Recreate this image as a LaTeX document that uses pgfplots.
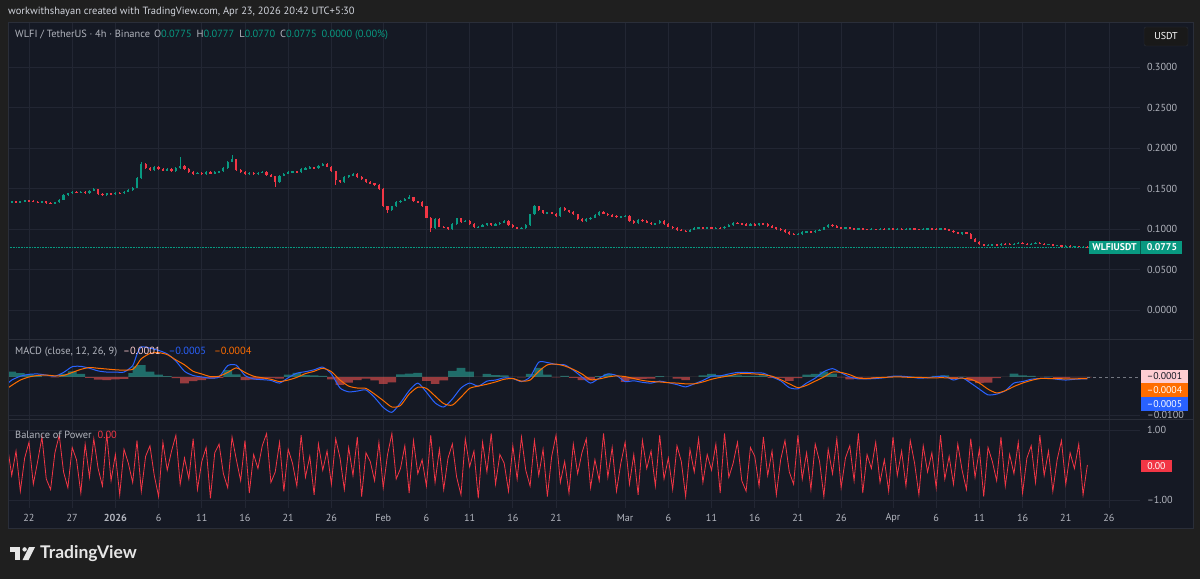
\documentclass[border=0pt]{standalone}
\usepackage{fontspec}
\setmainfont{PT Sans}
\newfontfamily\logofont{Lato}
\usepackage{pgfplots}
\pgfplotsset{compat=1.18}
\usepackage{pgfplotstable}
\definecolor{outerbg}{HTML}{1F1F1F}
\definecolor{panelbg}{HTML}{151924}
\definecolor{gridc}{HTML}{222633}
\definecolor{sepc}{HTML}{2A2E39}
\definecolor{labc}{HTML}{B2B5BE}
\definecolor{hdrc}{HTML}{D1D4DC}
\definecolor{upc}{HTML}{089981}
\definecolor{dnc}{HTML}{F23645}
\definecolor{macdc}{HTML}{2962FF}
\definecolor{sigc}{HTML}{FF6D00}
\definecolor{hpos}{HTML}{26A69A}
\definecolor{hneg}{HTML}{EF5350}
\definecolor{pinkc}{HTML}{FFCDD2}
\definecolor{bopc}{HTML}{F23645}
\definecolor{logoc}{HTML}{E6E6E6}

% up candles: d o h l c
\pgfplotstableread[row sep=\\]{
d o h l c\\
-2.5 .1320 .1345 .1312 .1335\\ -2.0 .1335 .1350 .1328 .1342\\ -1.0 .1330 .1348 .1322 .1340\\ -0.5 .1340 .1360 .1332 .1352\\
1.5 .1330 .1350 .1322 .1342\\ 3.0 .1312 .1338 .1305 .1330\\ 3.5 .1330 .1370 .1322 .1362\\ 4.0 .1362 .1428 .1355 .1420\\
4.5 .1420 .1450 .1412 .1440\\ 5.0 .1440 .1470 .1432 .1462\\ 6.0 .1448 .1468 .1440 .1460\\ 7.0 .1445 .1480 .1438 .1472\\
7.5 .1472 .1505 .1465 .1490\\ 9.0 .1420 .1448 .1412 .1440\\ 10.0 .1428 .1458 .1420 .1450\\ 11.0 .1440 .1470 .1432 .1462\\
11.5 .1462 .1488 .1455 .1480\\ 12.0 .1480 .1520 .1472 .1510\\ 12.5 .1510 .1640 .1500 .1630\\ 13.0 .1630 .1830 .1620 .1800\\
14.5 .1730 .1772 .1722 .1762\\ 16.0 .1722 .1755 .1715 .1745\\ 17.0 .1712 .1762 .1705 .1752\\ 17.5 .1752 .1890 .1745 .1780\\
19.5 .1682 .1705 .1675 .1695\\ 20.5 .1680 .1712 .1672 .1702\\ 21.5 .1690 .1715 .1682 .1705\\ 22.0 .1705 .1722 .1698 .1712\\
22.5 .1712 .1760 .1705 .1750\\ 23.0 .1750 .1840 .1742 .1830\\ 23.5 .1830 .1910 .1822 .1860\\ 25.5 .1680 .1702 .1672 .1692\\
26.5 .1680 .1705 .1672 .1695\\ 27.0 .1695 .1712 .1688 .1702\\ 29.0 .1580 .1670 .1572 .1660\\ 29.5 .1660 .1692 .1652 .1682\\
30.0 .1682 .1710 .1675 .1700\\ 30.5 .1700 .1722 .1692 .1712\\ 31.5 .1698 .1750 .1690 .1740\\ 32.0 .1740 .1762 .1732 .1752\\
32.5 .1752 .1772 .1745 .1762\\ 33.5 .1748 .1790 .1740 .1780\\ 34.0 .1780 .1815 .1772 .1800\\ 36.5 .1580 .1650 .1572 .1640\\
37.0 .1640 .1672 .1632 .1662\\ 37.5 .1662 .1690 .1655 .1680\\ 42.0 .1230 .1290 .1222 .1280\\ 42.5 .1280 .1340 .1272 .1330\\
43.0 .1330 .1360 .1322 .1350\\ 43.5 .1350 .1382 .1342 .1372\\ 44.0 .1372 .1420 .1365 .1392\\ 47.0 .1010 .1130 .1000 .1120\\
49.0 .1000 .1070 .0992 .1060\\ 49.5 .1060 .1140 .1052 .1130\\ 50.5 .1090 .1110 .1082 .1100\\ 52.0 .1020 .1040 .1012 .1030\\
52.5 .1030 .1060 .1022 .1050\\ 53.0 .1050 .1080 .1042 .1070\\ 54.0 .1050 .1070 .1042 .1060\\ 54.5 .1060 .1090 .1052 .1080\\
55.0 .1080 .1110 .1072 .1100\\ 57.0 .1010 .1020 .1002 .1012\\ 57.5 .1012 .1060 .1005 .1050\\ 58.0 .1050 .1190 .1042 .1180\\
58.5 .1180 .1300 .1172 .1280\\ 60.0 .1200 .1215 .1192 .1205\\ 61.5 .1160 .1275 .1152 .1260\\ 64.5 .1100 .1130 .1092 .1120\\
65.0 .1120 .1150 .1112 .1140\\ 65.5 .1140 .1180 .1132 .1170\\ 66.0 .1170 .1220 .1162 .1210\\ 68.5 .1150 .1165 .1142 .1155\\
69.0 .1155 .1170 .1148 .1160\\ 70.5 .1070 .1120 .1062 .1110\\ 72.5 .1060 .1080 .1052 .1070\\ 73.0 .1070 .1110 .1062 .1100\\
76.5 .0970 .1000 .0962 .0990\\ 77.0 .0990 .1020 .0982 .1010\\ 77.5 .1010 .1030 .1002 .1020\\ 78.5 .1010 .1030 .1002 .1020\\
79.5 .1008 .1020 .1000 .1012\\ 80.5 .1010 .1040 .1002 .1030\\ 81.0 .1030 .1060 .1022 .1050\\ 81.5 .1050 .1090 .1042 .1080\\
83.5 .1050 .1070 .1042 .1060\\ 84.5 .1050 .1080 .1042 .1070\\ 89.0 .0930 .0950 .0922 .0940\\ 89.5 .0940 .0970 .0932 .0960\\
90.0 .0960 .0980 .0952 .0970\\ 91.0 .0960 .0990 .0952 .0980\\ 91.5 .0980 .1000 .0972 .0990\\ 92.0 .0990 .1030 .0982 .1020\\
92.5 .1020 .1060 .1012 .1050\\ 94.5 .1010 .1028 .1004 .1020\\ 96.0 .1000 .1018 .0994 .1010\\ 97.5 .0990 .1008 .0984 .1000\\
98.5 .0990 .1010 .0984 .1002\\ 99.5 .0998 .1018 .0992 .1010\\ 100.5 .1000 .1012 .0994 .1004\\ 101.5 .0992 .1008 .0986 .1000\\
102.0 .1000 .1018 .0994 .1010\\ 103.5 .0990 .1008 .0984 .1000\\ 104.0 .1000 .1018 .0994 .1010\\ 105.5 .0998 .1018 .0992 .1010\\
108.0 .0940 .0968 .0932 .0960\\ 111.0 .0800 .0810 .0794 .0802\\ 111.5 .0802 .0818 .0796 .0810\\ 112.5 .0800 .0828 .0794 .0820\\
114.0 .0810 .0828 .0804 .0820\\ 114.5 .0820 .0838 .0814 .0830\\ 116.0 .0810 .0828 .0804 .0820\\ 116.5 .0820 .0838 .0814 .0830\\
118.0 .0810 .0818 .0804 .0812\\ 119.0 .0800 .0808 .0794 .0802\\ 120.0 .0790 .0798 .0784 .0792\\ 121.0 .0780 .0796 .0774 .0790\\
122.0 .0780 .0788 .0774 .0782\\
}\upT

% down candles: d o h l c
\pgfplotstableread[row sep=\\]{
d o h l c\\
-1.5 .1342 .1350 .1322 .1330\\ 0.0 .1352 .1360 .1338 .1345\\ 0.5 .1345 .1352 .1330 .1338\\ 1.0 .1338 .1345 .1322 .1330\\
2.0 .1342 .1350 .1314 .1322\\ 2.5 .1322 .1330 .1304 .1312\\ 5.5 .1462 .1470 .1440 .1448\\ 6.5 .1460 .1468 .1438 .1445\\
8.0 .1490 .1498 .1425 .1432\\ 8.5 .1432 .1440 .1412 .1420\\ 9.5 .1440 .1448 .1420 .1428\\ 10.5 .1450 .1458 .1432 .1440\\
13.5 .1800 .1810 .1740 .1750\\ 14.0 .1750 .1760 .1720 .1730\\ 15.0 .1762 .1772 .1730 .1740\\ 15.5 .1740 .1750 .1712 .1722\\
16.5 .1745 .1755 .1702 .1712\\ 18.0 .1780 .1790 .1732 .1742\\ 18.5 .1742 .1750 .1690 .1700\\ 19.0 .1700 .1710 .1672 .1682\\
20.0 .1695 .1705 .1670 .1680\\ 21.0 .1702 .1710 .1680 .1690\\ 24.0 .1860 .1870 .1720 .1730\\ 24.5 .1730 .1740 .1690 .1700\\
25.0 .1700 .1710 .1670 .1680\\ 26.0 .1692 .1700 .1670 .1680\\ 27.5 .1702 .1710 .1660 .1670\\ 28.0 .1670 .1680 .1640 .1650\\
28.5 .1650 .1660 .1520 .1580\\ 31.0 .1712 .1720 .1690 .1698\\ 33.0 .1762 .1770 .1740 .1748\\ 34.5 .1800 .1810 .1760 .1770\\
35.0 .1770 .1780 .1700 .1710\\ 35.5 .1710 .1720 .1545 .1600\\ 36.0 .1600 .1610 .1570 .1580\\ 38.0 .1680 .1690 .1632 .1642\\
38.5 .1642 .1650 .1602 .1612\\ 39.0 .1612 .1620 .1570 .1580\\ 39.5 .1580 .1590 .1552 .1562\\ 40.0 .1562 .1570 .1530 .1540\\
40.5 .1540 .1550 .1480 .1490\\ 41.0 .1490 .1500 .1270 .1280\\ 41.5 .1280 .1290 .1200 .1230\\ 44.5 .1392 .1400 .1330 .1340\\
45.0 .1340 .1350 .1320 .1330\\ 45.5 .1330 .1340 .1270 .1280\\ 46.0 .1280 .1290 .1130 .1140\\ 46.5 .1140 .1150 .0960 .1010\\
47.5 .1120 .1130 .1020 .1030\\ 48.0 .1030 .1040 .1010 .1020\\ 48.5 .1020 .1030 .0990 .1000\\ 50.0 .1130 .1140 .1080 .1090\\
51.0 .1100 .1110 .1050 .1060\\ 51.5 .1060 .1070 .1010 .1020\\ 53.5 .1070 .1080 .1040 .1050\\ 55.5 .1100 .1110 .1040 .1050\\
56.0 .1050 .1060 .1010 .1020\\ 56.5 .1020 .1030 .1000 .1010\\ 59.0 .1280 .1290 .1220 .1230\\ 59.5 .1230 .1240 .1190 .1200\\
60.5 .1205 .1215 .1180 .1190\\ 61.0 .1190 .1200 .1150 .1160\\ 62.0 .1260 .1270 .1220 .1230\\ 62.5 .1230 .1240 .1200 .1210\\
63.0 .1210 .1220 .1170 .1180\\ 63.5 .1180 .1190 .1110 .1120\\ 64.0 .1120 .1130 .1090 .1100\\ 66.5 .1210 .1220 .1180 .1190\\
67.0 .1190 .1200 .1160 .1170\\ 67.5 .1170 .1180 .1150 .1160\\ 68.0 .1160 .1170 .1140 .1150\\ 69.5 .1160 .1170 .1090 .1100\\
70.0 .1100 .1110 .1060 .1070\\ 71.0 .1110 .1120 .1090 .1100\\ 71.5 .1100 .1110 .1070 .1080\\ 72.0 .1080 .1090 .1050 .1060\\
73.5 .1100 .1110 .1050 .1060\\ 74.0 .1060 .1070 .1020 .1030\\ 74.5 .1030 .1040 .1000 .1010\\ 75.0 .1010 .1020 .0980 .0990\\
75.5 .0990 .1000 .0970 .0980\\ 76.0 .0980 .0990 .0960 .0970\\ 78.0 .1020 .1030 .1000 .1010\\ 79.0 .1020 .1030 .1000 .1008\\
80.0 .1012 .1020 .1002 .1010\\ 82.0 .1080 .1090 .1060 .1070\\ 82.5 .1070 .1080 .1050 .1060\\ 83.0 .1060 .1070 .1040 .1050\\
84.0 .1060 .1070 .1040 .1050\\ 85.0 .1070 .1080 .1050 .1060\\ 85.5 .1060 .1070 .1030 .1040\\ 86.0 .1040 .1050 .1010 .1020\\
86.5 .1020 .1030 .0990 .1000\\ 87.0 .1000 .1010 .0980 .0990\\ 87.5 .0990 .1000 .0950 .0960\\ 88.0 .0960 .0970 .0930 .0940\\
88.5 .0940 .0950 .0920 .0930\\ 90.5 .0970 .0980 .0950 .0960\\ 93.0 .1050 .1060 .1030 .1040\\ 93.5 .1040 .1050 .1010 .1020\\
94.0 .1020 .1030 .1000 .1010\\ 95.0 .1020 .1026 .1004 .1010\\ 95.5 .1010 .1016 .0994 .1000\\ 96.5 .1010 .1016 .0994 .1000\\
97.0 .1000 .1006 .0984 .0990\\ 98.0 .1000 .1006 .0984 .0990\\ 99.0 .1002 .1008 .0992 .0998\\ 100.0 .1010 .1016 .0994 .1000\\
101.0 .1004 .1010 .0986 .0992\\ 102.5 .1010 .1016 .0994 .1000\\ 103.0 .1000 .1006 .0984 .0990\\ 104.5 .1010 .1016 .0996 .1002\\
105.0 .1002 .1008 .0992 .0998\\ 106.0 .1010 .1016 .0994 .1000\\ 106.5 .1000 .1006 .0974 .0980\\ 107.0 .0980 .0986 .0954 .0960\\
107.5 .0960 .0966 .0934 .0940\\ 108.5 .0960 .0966 .0934 .0940\\ 109.0 .0940 .0946 .0874 .0880\\ 109.5 .0880 .0886 .0834 .0840\\
110.0 .0840 .0846 .0804 .0810\\ 110.5 .0810 .0816 .0794 .0800\\ 112.0 .0810 .0816 .0794 .0800\\ 113.0 .0820 .0826 .0812 .0818\\
113.5 .0818 .0824 .0804 .0810\\ 115.0 .0830 .0836 .0814 .0820\\ 115.5 .0820 .0826 .0804 .0810\\ 117.0 .0830 .0836 .0814 .0820\\
117.5 .0820 .0826 .0804 .0810\\ 118.5 .0812 .0818 .0794 .0800\\ 119.5 .0802 .0808 .0784 .0790\\ 120.5 .0792 .0798 .0774 .0780\\
121.5 .0790 .0796 .0774 .0780\\ 122.5 .0782 .0788 .0770 .0775\\
}\dnT

% MACD line (m) and signal (s)
\pgfplotstableread[row sep=\\]{
d m s\\
-2.5 -0.0018 -0.0030\\ -2 -0.0008 -0.0022\\ -1 0.0002 -0.0008\\ 0 0.0007 0.0000\\ 1 0.0008 0.0004\\ 2 0.0005 0.0005\\
3 0.0002 0.0003\\ 4 0.0012 0.0004\\ 5 0.0027 0.0012\\ 6 0.0028 0.0020\\ 7 0.0023 0.0025\\ 8 0.0016 0.0023\\
9 0.0013 0.0021\\ 10 0.0013 0.0019\\ 11 0.0013 0.0018\\ 12 0.0030 0.0020\\ 12.5 0.0060 0.0032\\ 13 0.0079 0.0048\\
14 0.0076 0.0062\\ 15 0.0070 0.0064\\ 16 0.0061 0.0059\\ 17 0.0042 0.0045\\ 18 0.0015 0.0032\\ 19 0.0004 0.0015\\
20 0.0000 0.0008\\ 21 -0.0003 0.0001\\ 22 0.0000 0.0002\\ 23 0.0030 0.0012\\ 24 0.0031 0.0024\\ 25 0.0004 0.0012\\
26 -0.0005 0.0002\\ 27 -0.0007 -0.0002\\ 28 -0.0009 -0.0006\\ 29 -0.0016 -0.0012\\ 30 -0.0002 -0.0008\\ 31 0.0010 -0.0001\\
32 0.0014 0.0009\\ 33 0.0019 0.0015\\ 34 0.0026 0.0023\\ 35 0.0008 0.0014\\ 36 -0.0029 -0.0008\\ 37 -0.0039 -0.0024\\
38 -0.0037 -0.0029\\ 39 -0.0034 -0.0030\\ 40 -0.0054 -0.0045\\ 41 -0.0080 -0.0062\\ 42 -0.0093 -0.0079\\ 43 -0.0068 -0.0075\\
44 -0.0036 -0.0045\\ 45 -0.0016 -0.0027\\ 46 -0.0040 -0.0030\\ 47 -0.0068 -0.0050\\ 48 -0.0079 -0.0070\\ 49 -0.0058 -0.0074\\
50 -0.0029 -0.0053\\ 51 -0.0016 -0.0030\\ 52 -0.0024 -0.0024\\ 53 -0.0011 -0.0019\\ 54 -0.0008 -0.0013\\ 55 -0.0002 -0.0006\\
56 -0.0004 -0.0004\\ 57 -0.0012 -0.0011\\ 58 0.0000 -0.0008\\ 59 0.0039 0.0015\\ 60 0.0038 0.0032\\ 61 0.0033 0.0034\\
62 0.0032 0.0029\\ 63 0.0018 0.0020\\ 64 0.0000 0.0008\\ 65 -0.0016 -0.0007\\ 66 -0.0003 -0.0005\\ 67 0.0008 0.0000\\
68 0.0004 0.0003\\ 69 -0.0012 0.0001\\ 70 -0.0010 -0.0004\\ 71 -0.0014 -0.0009\\ 72 -0.0016 -0.0012\\ 73 -0.0011 -0.0013\\
74 -0.0015 -0.0015\\ 75 -0.0020 -0.0016\\ 76 -0.0026 -0.0018\\ 77 -0.0018 -0.0018\\ 78 -0.0009 -0.0013\\ 79 0.0002 -0.0006\\
80 0.0003 -0.0001\\ 81 0.0008 0.0003\\ 82 0.0012 0.0008\\ 83 0.0012 0.0009\\ 84 0.0011 0.0008\\ 85 0.0010 0.0006\\
86 0.0000 0.0002\\ 87 -0.0010 -0.0007\\ 88 -0.0028 -0.0018\\ 89 -0.0031 -0.0028\\ 90 -0.0016 -0.0022\\ 91 -0.0003 -0.0011\\
92 0.0014 0.0000\\ 93 0.0022 0.0013\\ 94 0.0011 0.0012\\ 95 0.0000 0.0006\\ 96 -0.0005 -0.0003\\ 97 -0.0005 -0.0004\\
98 -0.0004 -0.0002\\ 99 -0.0002 -0.0001\\ 100 0.0002 0.0000\\ 101 0.0002 0.0000\\ 102 0.0000 -0.0001\\ 103 -0.0003 -0.0001\\
104 -0.0002 -0.0002\\ 105 0.0001 -0.0002\\ 106 0.0002 -0.0002\\ 107 -0.0008 -0.0003\\ 108 -0.0002 -0.0003\\ 109 -0.0016 -0.0006\\
110 -0.0032 -0.0016\\ 111 -0.0047 -0.0032\\ 112 -0.0045 -0.0042\\ 113 -0.0036 -0.0036\\ 114 -0.0016 -0.0025\\ 115 -0.0012 -0.0016\\
116 -0.0006 -0.0009\\ 117 -0.0004 -0.0004\\ 118 -0.0003 -0.0004\\ 119 -0.0006 -0.0004\\ 120 -0.0008 -0.0005\\ 121 -0.0006 -0.0005\\
122 -0.0005 -0.0004\\ 122.5 -0.0005 -0.0004\\
}\macdT

% Balance of Power, one value per 12h from day -2.5
\pgfplotstableread[row sep=\\]{
b\\
0.55\\ -0.30\\ 0.40\\ -0.75\\ 0.20\\ 0.65\\ -0.55\\ 0.10\\ 0.80\\ -0.40\\
-0.70\\ 0.35\\ 0.85\\ -0.20\\ -0.65\\ 0.50\\ 0.15\\ -0.80\\ 0.60\\ -0.35\\
0.75\\ -0.10\\ -0.60\\ 0.90\\ -0.45\\ 0.30\\ -0.85\\ 0.45\\ 0.05\\ -0.50\\
0.70\\ -0.75\\ 0.25\\ 0.55\\ -0.30\\ -0.90\\ 0.65\\ -0.15\\ 0.40\\ 0.85\\
-0.55\\ 0.20\\ -0.40\\ 0.75\\ -0.70\\ 0.10\\ 0.50\\ -0.95\\ 0.35\\ 0.60\\
-0.25\\ -0.65\\ 0.80\\ 0.15\\ -0.45\\ 0.70\\ -0.80\\ 0.30\\ -0.10\\ 0.55\\
0.90\\ -0.50\\ -0.20\\ 0.65\\ -0.75\\ 0.45\\ 0.05\\ -0.60\\ 0.85\\ -0.35\\
0.25\\ -0.85\\ 0.60\\ -0.15\\ 0.40\\ -0.55\\ 0.75\\ 0.20\\ -0.70\\ 0.50\\
-0.30\\ 0.80\\ -0.90\\ 0.35\\ 0.10\\ -0.45\\ 0.65\\ -0.65\\ 0.30\\ 0.90\\
-0.40\\ -0.10\\ 0.55\\ -0.80\\ 0.70\\ -0.25\\ 0.15\\ -0.60\\ 0.85\\ -0.50\\
0.45\\ -0.70\\ 0.20\\ 0.60\\ -0.35\\ -0.85\\ 0.75\\ -0.05\\ 0.40\\ -0.95\\
0.65\\ -0.20\\ 0.90\\ -0.55\\ 0.30\\ 0.05\\ -0.75\\ 0.55\\ -0.40\\ 0.80\\
-0.15\\ -0.60\\ 0.70\\ -0.30\\ 0.45\\ -0.90\\ 0.25\\ 0.85\\ -0.50\\ 0.10\\
-0.80\\ 0.60\\ -0.25\\ 0.35\\ 0.75\\ -0.65\\ 0.15\\ -0.45\\ 0.90\\ -0.35\\
0.50\\ -0.75\\ 0.05\\ 0.65\\ -0.55\\ 0.30\\ -0.85\\ 0.70\\ -0.10\\ 0.40\\
-0.60\\ 0.85\\ -0.40\\ 0.20\\ -0.70\\ 0.55\\ 0.10\\ -0.90\\ 0.45\\ -0.20\\
0.75\\ -0.50\\ 0.30\\ -0.15\\ 0.60\\ -0.80\\ 0.90\\ -0.35\\ 0.05\\ 0.65\\
-0.45\\ -0.75\\ 0.50\\ 0.25\\ -0.60\\ 0.80\\ -0.30\\ 0.40\\ -0.85\\ 0.15\\
0.70\\ -0.20\\ -0.55\\ 0.85\\ -0.40\\ 0.35\\ -0.70\\ 0.60\\ 0.10\\ -0.90\\
0.45\\ -0.25\\ 0.75\\ -0.65\\ 0.20\\ 0.55\\ -0.45\\ 0.90\\ -0.80\\ 0.30\\
-0.10\\ 0.65\\ -0.50\\ 0.15\\ -0.75\\ 0.80\\ -0.30\\ 0.40\\ -0.60\\ 0.70\\
0.05\\ -0.85\\ 0.55\\ -0.20\\ 0.35\\ -0.65\\ 0.85\\ -0.40\\ 0.25\\ -0.55\\
0.60\\ -0.15\\ -0.70\\ 0.75\\ -0.35\\ 0.45\\ -0.90\\ 0.50\\ 0.10\\ -0.45\\
0.80\\ -0.60\\ 0.30\\ -0.25\\ 0.65\\ -0.80\\ 0.20\\ 0.55\\ -0.50\\ 0.85\\
-0.30\\ 0.40\\ -0.75\\ 0.15\\ 0.70\\ -0.55\\ 0.35\\ -0.10\\ 0.60\\ -0.85\\
0.00\\
}\bopT

\pgfplotsset{
  tv/.style={
    scale only axis, width=1132pt,
    xmin=-2.43, xmax=128.59,
    axis line style={draw=none},
    major tick length=0pt, tick style={draw=none},
    scaled y ticks=false, scaled x ticks=false,
    xtick={0,5,10,15,20,25,30,35,41,46,51,56,61,69,74,79,84,89,94,100,105,110,115,120,125},
    xmajorgrids, ymajorgrids,
    major grid style={draw=gridc, line width=0.8pt},
    yticklabel pos=right,
    yticklabel style={anchor=west, inner sep=0pt, xshift=7pt, text=labc, font=\fontsize{10.2}{12}\selectfont},
    xticklabel style={anchor=center, inner sep=0pt, yshift=-10pt, text=labc, font=\fontsize{10.2}{12}\selectfont},
  },
  wick/.style={draw=none, mark=none, forget plot,
    error bars/.cd, y dir=both, y explicit, error mark=none,
    error bar style={draw=#1, line width=0.75pt}},
  body/.style={draw=none, mark=none, forget plot,
    error bars/.cd, y dir=both, y explicit, error mark=none,
    error bar style={draw=#1, line width=2.2pt}},
}

\begin{document}
\begin{tikzpicture}
\path[use as bounding box] (0pt,0pt) rectangle (1200pt,579pt);
\fill[outerbg] (0pt,0pt) rectangle (1200pt,579pt);
\fill[panelbg] (8pt,51pt) rectangle (1193pt,557pt);

% ---------------- price pane
\begin{axis}[tv, at={(8pt,239pt)}, anchor=south west, height=318pt,
  ymin=-0.03704, ymax=0.35556,
  ytick={0,0.05,0.1,0.15,0.2,0.25,0.3},
  yticklabels={0.0000,0.0500,0.1000,0.1500,0.2000,0.2500,0.3000},
  xticklabels={}]
\addplot[upc, densely dotted, line width=0.6pt, forget plot] coordinates {(-2.43,0.0775) (128.59,0.0775)};
\addplot[wick=upc] table[x=d, y expr={(\thisrow{h}+\thisrow{l})/2}, y error expr={(\thisrow{h}-\thisrow{l})/2}] {\upT};
\addplot[wick=dnc] table[x=d, y expr={(\thisrow{h}+\thisrow{l})/2}, y error expr={(\thisrow{h}-\thisrow{l})/2}] {\dnT};
\addplot[body=upc] table[x=d, y expr={(\thisrow{o}+\thisrow{c})/2}, y error expr={abs(\thisrow{c}-\thisrow{o})/2}] {\upT};
\addplot[body=dnc] table[x=d, y expr={(\thisrow{o}+\thisrow{c})/2}, y error expr={abs(\thisrow{c}-\thisrow{o})/2}] {\dnT};
\end{axis}

% ---------------- MACD pane
\begin{axis}[tv, at={(8pt,159pt)}, anchor=south west, height=80pt,
  ymin=-0.01132, ymax=0.00974,
  ytick={-0.01}, yticklabels={–0.0100},
  xticklabels={}]
\addplot[ybar, bar width=1, bar shift=0pt, draw=none, fill=hpos, fill opacity=0.6, forget plot]
  table[x=d, y expr={max(\thisrow{m}-\thisrow{s},0)}] {\macdT};
\addplot[ybar, bar width=1, bar shift=0pt, draw=none, fill=hneg, fill opacity=0.6, forget plot]
  table[x=d, y expr={min(\thisrow{m}-\thisrow{s},0)}] {\macdT};
\addplot[macdc, line width=1pt, smooth, tension=0.4] table[x=d, y=m] {\macdT};
\addplot[sigc, line width=1pt, smooth, tension=0.4] table[x=d, y=s] {\macdT};
\addplot[labc!60!panelbg, dashed, line width=0.5pt, forget plot] coordinates {(122.5,-0.0001) (128.59,-0.0001)};
\end{axis}

% ---------------- BOP pane
\begin{axis}[tv, at={(8pt,71pt)}, anchor=south west, height=88pt,
  ymin=-1.2286, ymax=1.2857,
  ytick={-1,1}, yticklabels={–1.00,1.00},
  xticklabels={22,27,\textbf{2026},6,11,16,21,26,Feb,6,11,16,21,Mar,6,11,16,21,26,Apr,6,11,16,21,26}]
\addplot[bopc, line width=0.8pt] table[x expr={\coordindex*0.5-2.5}, y=b] {\bopT};
\end{axis}

% pane separators and panel border
\draw[sepc, line width=1pt] (8pt,239pt) -- (1193pt,239pt);
\draw[sepc, line width=1pt] (8pt,159pt) -- (1193pt,159pt);
\draw[sepc, line width=0.8pt] (8pt,51pt) rectangle (1193pt,557pt);

% header
\node[anchor=west, inner sep=0pt, text=hdrc, font=\fontsize{10.5}{12}\selectfont] at (8pt,567pt)
  {workwithshayan created with TradingView.com, Apr 23, 2026 20:42 UTC+5:30};

% price legend
\node[anchor=west, inner sep=0pt, text=labc, font=\fontsize{10.4}{12}\selectfont] at (15pt,544pt)
  {WLFI / TetherUS · 4h · Binance\hspace{4pt}O\textcolor{upc}{0.0775}\hspace{5pt}H\textcolor{upc}{0.0777}\hspace{5pt}L\textcolor{upc}{0.0770}\hspace{5pt}C\textcolor{upc}{0.0775}\hspace{5pt}\textcolor{upc}{0.0000 (0.00\%)}};

% USDT box
\node[fill=black!90, draw=sepc, rounded corners=2pt, minimum width=44pt, minimum height=19pt, inner sep=0pt,
  text=white, font=\fontsize{10}{12}\selectfont] at (1166pt,542.5pt) {USDT};

% current price label
\fill[upc] (1089pt,325pt) rectangle (1182pt,338pt);
\draw[black!40!upc, line width=0.6pt] (1140pt,325pt) -- (1140pt,338pt);
\node[inner sep=0pt, text=white, font=\fontsize{9.8}{12}\selectfont\bfseries] at (1114.5pt,331.5pt) {WLFIUSDT};
\node[inner sep=0pt, text=white, font=\fontsize{9.8}{12}\selectfont\bfseries] at (1162pt,331.5pt) {0.0775};

% MACD legend
\node[anchor=west, inner sep=0pt, text=labc, font=\fontsize{10.4}{12}\selectfont] at (15pt,227pt)
  {MACD (close, 12, 26, 9)\hspace{6pt}\textcolor{pinkc}{–0.0001}\hspace{8pt}\textcolor{macdc}{–0.0005}\hspace{8pt}\textcolor{sigc}{–0.0004}};

% MACD value boxes
\fill[pinkc] (1141pt,196pt) rectangle (1188pt,209pt);
\node[inner sep=0pt, text=panelbg, font=\fontsize{9.8}{12}\selectfont] at (1164.5pt,202.5pt) {–0.0001};
\fill[sigc] (1141pt,182pt) rectangle (1188pt,196pt);
\node[inner sep=0pt, text=white, font=\fontsize{9.8}{12}\selectfont] at (1164.5pt,189pt) {–0.0004};
\fill[macdc] (1141pt,168pt) rectangle (1188pt,182pt);
\node[inner sep=0pt, text=white, font=\fontsize{9.8}{12}\selectfont] at (1164.5pt,175pt) {–0.0005};

% BOP legend and value box
\node[anchor=west, inner sep=0pt, text=labc, font=\fontsize{10.4}{12}\selectfont] at (15pt,144pt)
  {Balance of Power\hspace{6pt}\textcolor{bopc}{0.00}};
\fill[bopc] (1141pt,107pt) rectangle (1172pt,119pt);
\node[inner sep=0pt, text=white, font=\fontsize{9.8}{12}\selectfont] at (1156.5pt,113pt) {0.00};

% TradingView logo
\fill[logoc] (10pt,32pt) rectangle (20pt,27.5pt);
\fill[logoc] (15.3pt,27.5pt) rectangle (20pt,19pt);
\fill[logoc] (24.6pt,29.6pt) circle (2.2pt);
\fill[logoc] (29pt,32pt) -- (35pt,32pt) -- (28.5pt,19pt) -- (22.5pt,19pt) -- cycle;
\node[anchor=west, inner sep=0pt, text=logoc, font=\logofont\fontsize{17.5}{20}\selectfont\bfseries] at (40pt,25.5pt) {TradingView};
\end{tikzpicture}
\end{document}
